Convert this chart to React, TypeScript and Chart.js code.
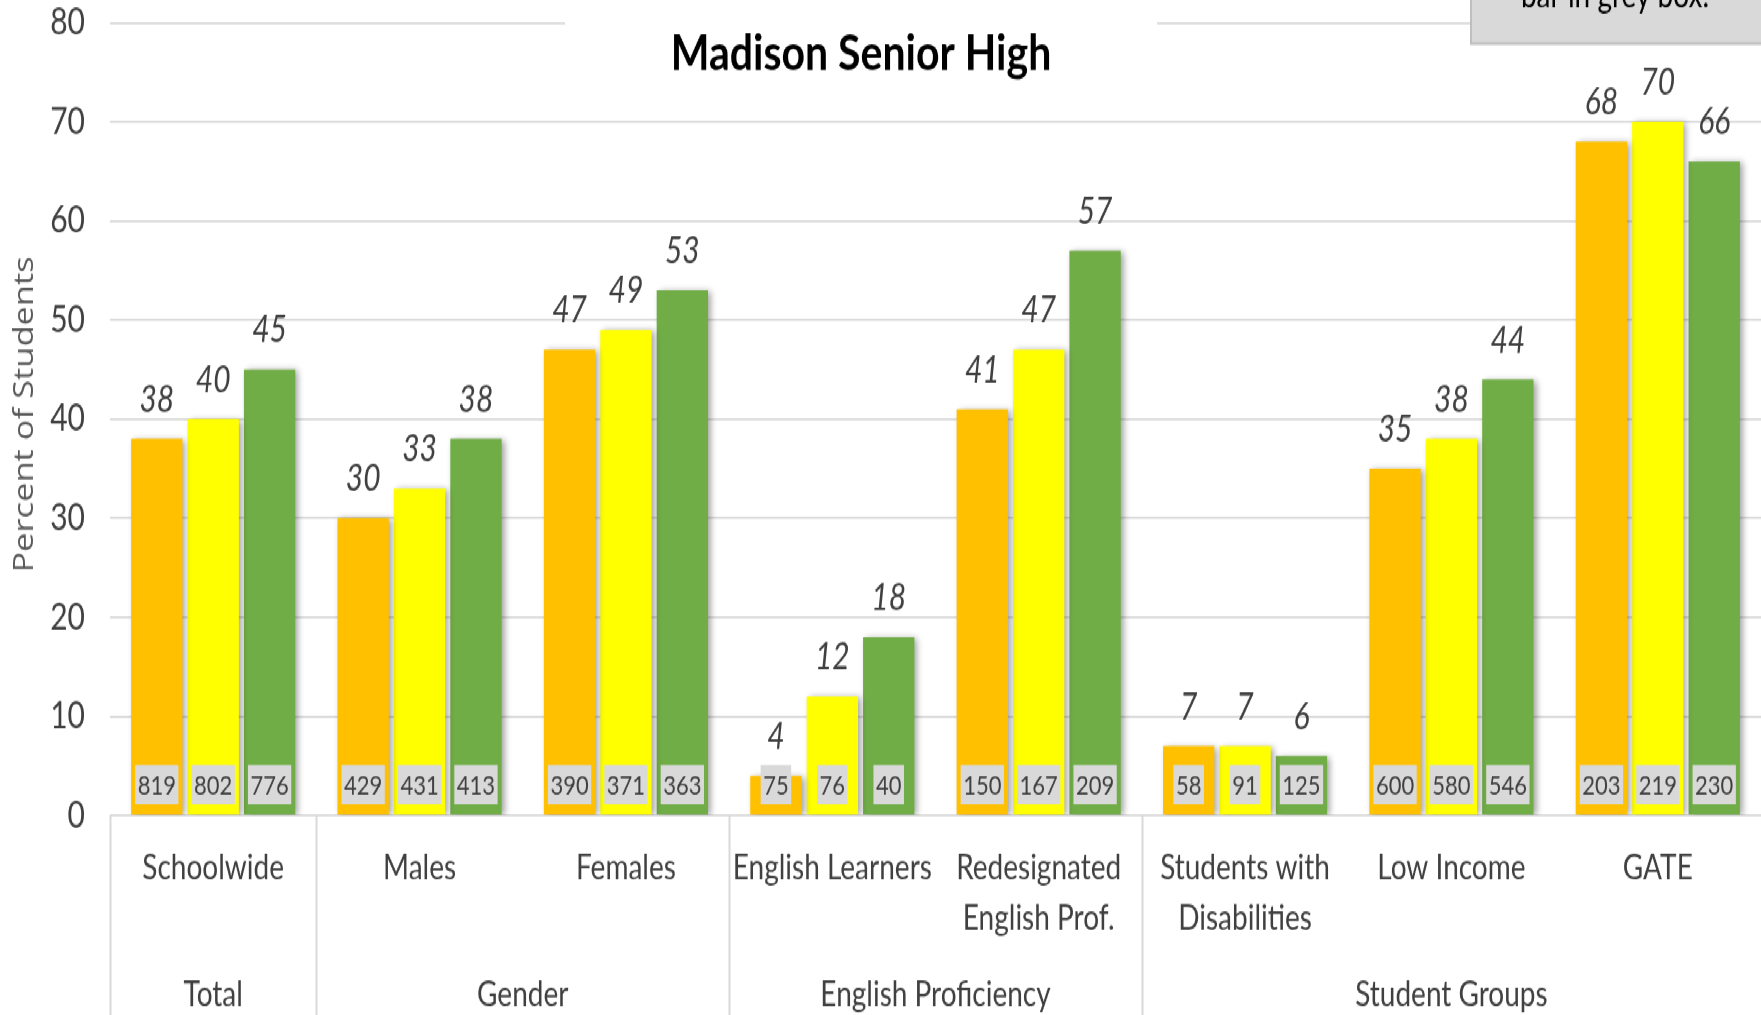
import React, { useEffect, useRef } from 'react';
import { Chart, registerables } from 'chart.js';
Chart.register(...registerables);

const categories: string[][] = [
  ['Schoolwide'], ['Males'], ['Females'], ['English Learners'],
  ['Redesignated', 'English Prof.'], ['Students with', 'Disabilities'], ['Low Income'], ['GATE'],
];
const groups = ['Total', 'Gender', 'English Proficiency', 'Student Groups'];
const groupStarts = [0, 1, 3, 5];
const groupEnds = [0, 2, 4, 7];
const series1 = [38, 30, 47, 4, 41, 7, 35, 68];
const series2 = [40, 33, 49, 12, 47, 7, 38, 70];
const series3 = [45, 38, 53, 18, 57, 6, 44, 66];
const counts1 = [819, 429, 390, 75, 150, 58, 600, 203];
const counts2 = [802, 431, 371, 76, 167, 91, 580, 219];
const counts3 = [776, 413, 363, 40, 209, 125, 546, 230];
const yMin = 0;
const yMax = 80;
const yStep = 10;
const titleText = 'Madison Senior High';
const yTitleText = 'Percent of Students';
const noteText = 'bar in grey box.';

const W = 1761;
const FULL_H = 1015;
const SY = 1.23;
const H = Math.round(FULL_H / SY);
const FONT = 'Lato, "Open Sans", sans-serif';
const TEXT = '#404040';
const GRID = '#D9D9D9';

const countsAll = [counts1, counts2, counts3];

const labelsPlugin = {
  id: 'customLabels',
  beforeDatasetsDraw(chart: any) {
    const ctx = chart.ctx;
    ctx.save();
    ctx.shadowColor = 'rgba(0,0,0,0.35)';
    ctx.shadowBlur = 6;
    ctx.shadowOffsetX = 3;
    ctx.shadowOffsetY = 1;
  },
  afterDatasetsDraw(chart: any) {
    const ctx = chart.ctx;
    ctx.restore();
    const y0 = chart.scales.y.getPixelForValue(0);
    ctx.save();
    for (let d = 0; d < 3; d++) {
      const meta = chart.getDatasetMeta(d);
      meta.data.forEach((bar: any, i: number) => {
        const txt = String(countsAll[d][i]);
        ctx.font = `22px ${FONT}`;
        const tw = ctx.measureText(txt).width;
        const bw = tw + 5;
        const top = y0 - 41;
        const bh = 32;
        ctx.fillStyle = '#D9D9D9';
        ctx.fillRect(bar.x - bw / 2, top, bw, bh);
        ctx.fillStyle = TEXT;
        ctx.textAlign = 'center';
        ctx.textBaseline = 'middle';
        ctx.fillText(txt, bar.x, top + bh / 2 + 1);
        const v = chart.data.datasets[d].data[i];
        ctx.font = `italic 30px ${FONT}`;
        ctx.textBaseline = 'alphabetic';
        ctx.fillText(String(v), bar.x, bar.y - 22);
      });
    }
    ctx.restore();
  },
  afterDraw(chart: any) {
    const ctx = chart.ctx;
    const x = chart.scales.x;
    const y = chart.scales.y;
    const area = chart.chartArea;
    const y0 = y.getPixelForValue(0);
    const catW = (area.right - area.left) / categories.length;
    ctx.save();
    ctx.strokeStyle = GRID;
    ctx.lineWidth = 2;
    groupStarts.forEach((s) => {
      const px = Math.round(x.getPixelForValue(s) - catW / 2) + 0.5;
      ctx.beginPath();
      ctx.moveTo(px, y0);
      ctx.lineTo(px, H);
      ctx.stroke();
    });
    ctx.fillStyle = TEXT;
    ctx.textAlign = 'center';
    ctx.textBaseline = 'middle';
    ctx.font = `28px ${FONT}`;
    categories.forEach((lines, i) => {
      const cx = x.getPixelForValue(i);
      lines.forEach((ln, k) => {
        ctx.fillText(ln, cx, y0 + 43 + k * 40.5);
      });
    });
    groups.forEach((g, gi) => {
      const cx = (x.getPixelForValue(groupStarts[gi]) + x.getPixelForValue(groupEnds[gi])) / 2;
      ctx.fillText(g, cx, y0 + 146);
    });
    ctx.fillStyle = '#ffffff';
    ctx.fillRect(565, 0, 592, 40);
    ctx.fillStyle = '#000000';
    ctx.font = `bold 41px ${FONT}`;
    ctx.fillText(titleText, 861, 44);
    ctx.save();
    ctx.translate(25, 337);
    ctx.rotate(-Math.PI / 2);
    ctx.font = `28px "Open Sans", sans-serif`;
    ctx.fillStyle = '#595959';
    ctx.fillText(yTitleText, 0, 0);
    ctx.restore();
    ctx.fillStyle = '#D9D9D9';
    ctx.fillRect(1471, -5, 300, 40.5);
    ctx.strokeStyle = '#BFBFBF';
    ctx.lineWidth = 2;
    ctx.strokeRect(1471, -5, 300, 40.5);
    ctx.fillStyle = '#000000';
    ctx.font = `28px ${FONT}`;
    ctx.textBaseline = 'alphabetic';
    ctx.fillText(noteText, 1615, 6);
    ctx.restore();
  },
};

export default function App() {
  const ref = useRef<HTMLCanvasElement>(null);
  useEffect(() => {
    if (!ref.current) return;
    const chart = new Chart(ref.current, {
      type: 'bar',
      data: {
        labels: categories.map((c) => c.join(' ')),
        datasets: [
          { label: 'Year 1', data: series1, backgroundColor: '#FFC000' },
          { label: 'Year 2', data: series2, backgroundColor: '#FFFF00' },
          { label: 'Year 3', data: series3, backgroundColor: '#70AD47' },
        ],
      },
      options: {
        responsive: false,
        animation: false,
        devicePixelRatio: 1,
        layout: { padding: { top: 18.5, bottom: H - 663, left: 0, right: 0 } },
        datasets: { bar: { categoryPercentage: 0.82, barPercentage: 0.91 } },
        plugins: { legend: { display: false }, tooltip: { enabled: false }, title: { display: false } },
        scales: {
          x: { display: false },
          y: {
            min: yMin,
            max: yMax,
            border: { display: false },
            grid: { color: GRID, lineWidth: 1.7, drawTicks: false },
            ticks: { stepSize: yStep, padding: 25, color: TEXT, font: { family: FONT, size: 30 } },
            afterFit: (s: any) => { s.width = 110; s.paddingTop = 0; s.paddingBottom = 0; },
          },
        },
      },
      plugins: [labelsPlugin],
    });
    return () => chart.destroy();
  }, []);
  return (
    <div style={{ position: 'fixed', left: 0, top: 0, width: W, height: H, transform: `scaleY(${SY})`, transformOrigin: 'top left', background: '#fff' }}>
      <canvas ref={ref} width={W} height={H} style={{ width: W, height: H, display: 'block' }} />
    </div>
  );
}
